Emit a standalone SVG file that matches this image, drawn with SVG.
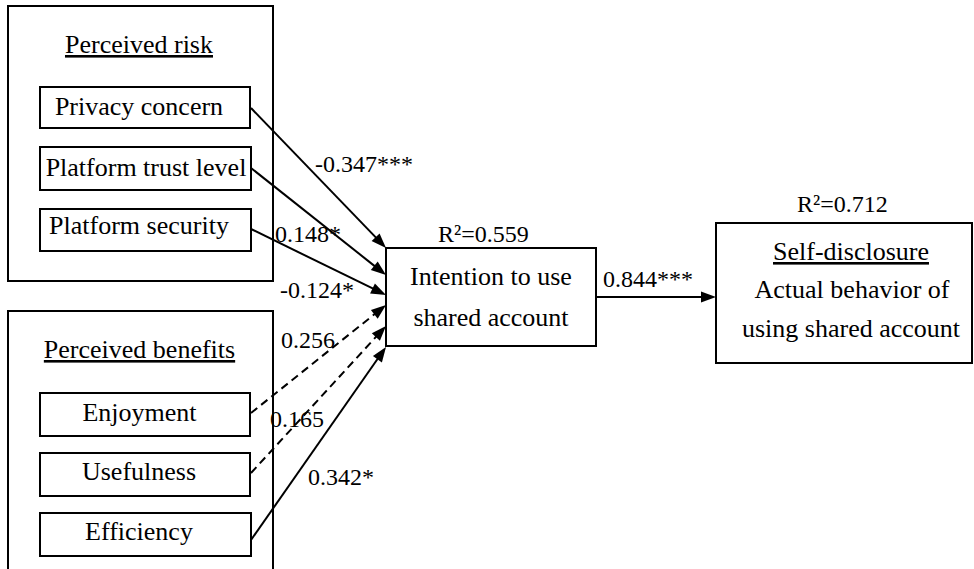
<svg xmlns="http://www.w3.org/2000/svg" width="974" height="569" viewBox="0 0 974 569">
  <style>
    .f { font-family: 'Liberation Serif', serif; fill: #000; }
    .box { fill: #fff; stroke: #000; stroke-width: 2; }
    .group { fill: none; stroke: #000; stroke-width: 2; }
    .t { font-size: 26px; text-anchor: middle; }
    .u { text-decoration: underline; }
    .lbl { font-size: 24px; }
    .edge { stroke: #000; stroke-width: 2; fill: none; }
    .dash { stroke-dasharray: 8 5; }
    .head { fill: #000; stroke: none; }
  </style>
  <rect width="974" height="569" fill="#fff"/>

  <!-- Perceived risk group -->
  <g id="perceived-risk">
    <rect class="group" x="8" y="6" width="265" height="275"/>
    <text class="f t u" font-family="Liberation Serif" x="139" y="53">Perceived risk</text>
  </g>
  <g id="privacy-concern">
    <rect class="box" x="40" y="87" width="210" height="41"/>
    <text class="f t" font-family="Liberation Serif" x="139" y="115">Privacy concern</text>
  </g>
  <g id="platform-trust-level">
    <rect class="box" x="40" y="147" width="211" height="43"/>
    <text class="f t" font-family="Liberation Serif" x="146" y="176">Platform trust level</text>
  </g>
  <g id="platform-security">
    <rect class="box" x="40" y="209" width="211" height="42"/>
    <text class="f t" font-family="Liberation Serif" x="139" y="234">Platform security</text>
  </g>

  <!-- Perceived benefits group -->
  <g id="perceived-benefits">
    <rect class="group" x="8" y="311" width="265" height="270"/>
    <text class="f t u" font-family="Liberation Serif" x="139.5" y="358">Perceived benefits</text>
  </g>
  <g id="enjoyment">
    <rect class="box" x="40" y="393" width="210" height="43"/>
    <text class="f t" font-family="Liberation Serif" x="139.5" y="421">Enjoyment</text>
  </g>
  <g id="usefulness">
    <rect class="box" x="40" y="453" width="210" height="43"/>
    <text class="f t" font-family="Liberation Serif" x="139" y="480">Usefulness</text>
  </g>
  <g id="efficiency">
    <rect class="box" x="40" y="513" width="211" height="43"/>
    <text class="f t" font-family="Liberation Serif" x="139" y="540">Efficiency</text>
  </g>

  <!-- Intention -->
  <g id="intention">
    <rect class="box" x="386" y="248" width="210" height="98"/>
    <text class="f t" font-family="Liberation Serif" x="491" y="285">Intention to use</text>
    <text class="f t" font-family="Liberation Serif" x="491" y="326">shared account</text>
    <text class="f lbl" font-family="Liberation Serif" x="438" y="242">R²=0.559</text>
  </g>

  <!-- Self-disclosure -->
  <g id="self-disclosure">
    <rect class="box" x="716" y="223" width="256" height="140"/>
    <text class="f t u" font-family="Liberation Serif" x="851" y="260">Self-disclosure</text>
    <text class="f t" font-family="Liberation Serif" x="852" y="298">Actual behavior of</text>
    <text class="f t" font-family="Liberation Serif" x="851" y="337">using shared account</text>
    <text class="f lbl" font-family="Liberation Serif" x="797" y="212">R²=0.712</text>
  </g>

  <!-- Paths with filled arrowheads -->
  <g id="connectors">
    <line class="edge" x1="251" y1="108" x2="377.7" y2="239.4"/>
    <polygon class="head" points="386,248 371.6,241.0 379.6,233.4"/>
    <line class="edge" x1="251" y1="168" x2="376.6" y2="267.6"/>
    <polygon class="head" points="386,275 370.8,270.0 377.7,261.4"/>
    <line class="edge" x1="251" y1="229" x2="375.2" y2="289.7"/>
    <polygon class="head" points="386,295 370.1,293.4 374.9,283.5"/>
    <line class="edge dash" x1="251" y1="413" x2="376.6" y2="312.5"/>
    <polygon class="head" points="386,305 377.7,318.7 370.9,310.1"/>
    <line class="edge dash" x1="251" y1="473" x2="377.9" y2="334.8"/>
    <polygon class="head" points="386,326 379.9,340.8 371.8,333.3"/>
    <line class="edge" x1="251" y1="540" x2="379.1" y2="356.8"/>
    <polygon class="head" points="386,347 381.9,362.4 372.9,356.1"/>
    <line class="edge" x1="596" y1="297" x2="704" y2="297"/>
    <polygon class="head" points="716,297 701,302.5 701,291.5"/>
  </g>

  <!-- Path coefficients -->
  <g id="coefficients">
    <text class="f lbl" font-family="Liberation Serif" x="315" y="172">-0.347***</text>
    <text class="f lbl" font-family="Liberation Serif" x="275" y="242">0.148*</text>
    <text class="f lbl" font-family="Liberation Serif" x="280" y="298">-0.124*</text>
    <text class="f lbl" font-family="Liberation Serif" x="281" y="348">0.256</text>
    <text class="f lbl" font-family="Liberation Serif" x="270" y="427">0.165</text>
    <text class="f lbl" font-family="Liberation Serif" x="308" y="485">0.342*</text>
    <text class="f lbl" font-family="Liberation Serif" x="603" y="287">0.844***</text>
  </g>
</svg>
